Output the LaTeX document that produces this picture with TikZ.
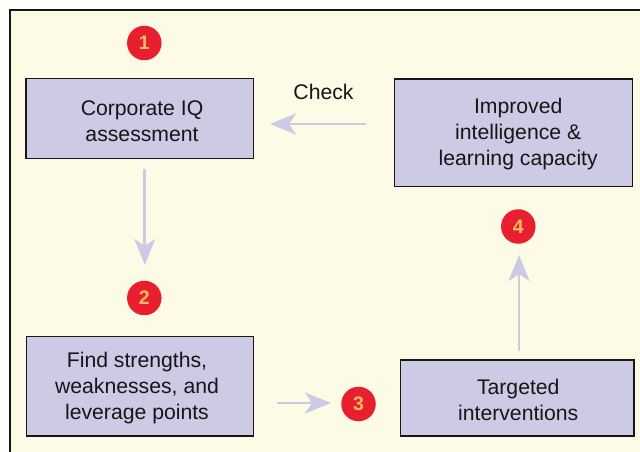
\documentclass[tikz,border=0pt]{standalone}
\usepackage{fontspec}
\setmainfont{Liberation Sans}
\usetikzlibrary{arrows.meta}
\definecolor{paper}{HTML}{FDFBE6}
\definecolor{lilac}{HTML}{CCCAE5}
\definecolor{badgered}{HTML}{E81F2F}
\definecolor{badgetext}{HTML}{F7BC62}
\definecolor{ink}{HTML}{161616}
\tikzset{
  stepbox/.style={draw=ink,line width=1.1pt,fill=lilac,inner sep=0pt},
  boxtext/.style={text=ink,inner sep=0pt,align=center,font=\fontsize{21.2}{26}\selectfont},
  badge/.style={circle,fill=badgered,minimum size=34.5pt,inner sep=0pt,text=badgetext,
    font=\fontsize{19.5}{19.5}\selectfont\bfseries},
  flow/.style={draw=lilac,line width=2.9pt,
    -{Stealth[length=26pt,width=21pt,inset=7pt,fill=lilac]}},
  plainlabel/.style={text=ink,inner sep=0pt,font=\fontsize{21.2}{26}\selectfont}
}
\begin{document}
\begin{tikzpicture}[x=1pt,y=-1pt]
\useasboundingbox (0,0) rectangle (640,452);
\fill[white] (0,0) rectangle (640,452);
\fill[paper] (10,10) rectangle (640,452);
\draw[ink,line width=1.2pt] (10,452) -- (10,10) -- (640,10);

\node[stepbox,minimum width=227.5pt,minimum height=80pt,
  label={[boxtext,xshift=2.3pt,yshift=-3pt]center:{Corporate IQ\\assessment}}] (assess) at (139.75,118.5) {};
\node[stepbox,minimum width=227pt,minimum height=99.5pt,
  label={[boxtext,xshift=-3pt,yshift=-2pt]center:{Find strengths,\\weaknesses, and\\leverage points}}] (find) at (140,386.25) {};
\node[stepbox,minimum width=233.5pt,minimum height=76pt,
  label={[boxtext,xshift=1pt,yshift=-2pt]center:{Targeted\\interventions}}] (target) at (517.25,398) {};
\node[stepbox,minimum width=238pt,minimum height=107.5pt,
  label={[boxtext,xshift=4.7pt,yshift=-1pt]center:{Improved\\intelligence \&\\learning capacity}}] (improved) at (513.5,132.75) {};

\node[badge] (b1) at (144.3,43) {1};
\node[badge] (b2) at (144.3,298) {2};
\node[badge] (b3) at (358.5,404) {3};
\node[badge] (b4) at (518.3,226.5) {4};

\node[plainlabel] (check) at (323.5,92) {Check};

\coordinate (a1s) at (144.8,169);
\coordinate (a1e) at (144.8,265);
\coordinate (a2s) at (277,403);
\coordinate (a2e) at (331,403);
\coordinate (a3s) at (519,351);
\coordinate (a3e) at (519,255);
\coordinate (a4s) at (366,124);
\coordinate (a4e) at (270,124);
\draw[flow] (a1s) -- (a1e);
\draw[flow] (a2s) -- (a2e);
\draw[flow] (a3s) -- (a3e);
\draw[flow] (a4s) -- (a4e);
\end{tikzpicture}
\end{document}
